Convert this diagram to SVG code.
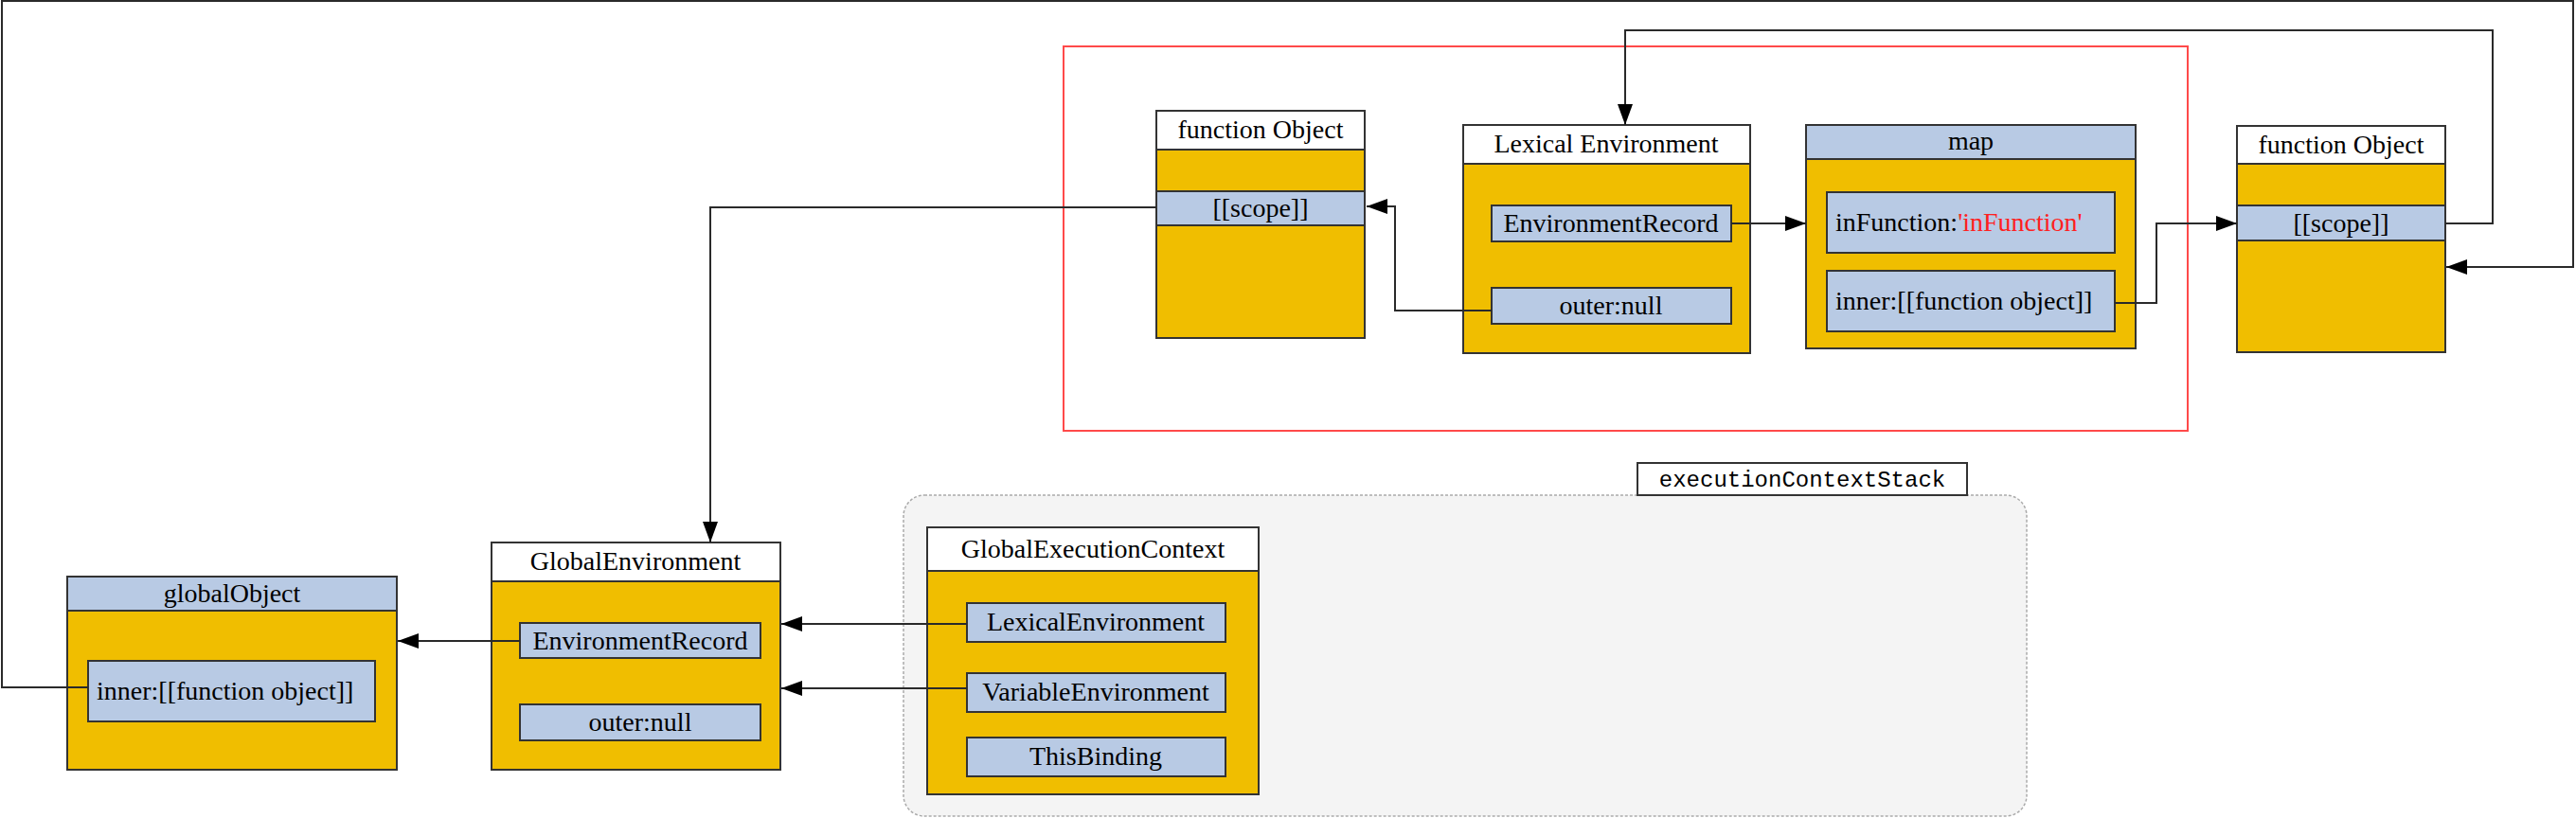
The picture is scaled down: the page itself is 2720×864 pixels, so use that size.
<svg xmlns="http://www.w3.org/2000/svg" width="2720" height="864" viewBox="0 0 2720 864">
<defs>
<marker id="arr" viewBox="0 0 22 16" refX="22" refY="8" markerWidth="22" markerHeight="16" orient="auto" markerUnits="userSpaceOnUse">
<path d="M0,0 L22,8 L0,16 Z" fill="#000"/>
</marker>
<style>
.box{fill:#F0BE00;stroke:#333;stroke-width:2}
.hw{fill:#fff;stroke:#333;stroke-width:2}
.hb{fill:#B8CAE4;stroke:#333;stroke-width:2}
.fld{fill:#B8CAE4;stroke:#333;stroke-width:2}
.t{font-family:"Liberation Serif","Times New Roman",serif;font-size:28px;fill:#000;text-anchor:middle}
.tl{font-family:"Liberation Serif","Times New Roman",serif;font-size:28px;fill:#000;text-anchor:start}
.mono{font-family:"Liberation Mono","Courier New",monospace;font-size:24px;fill:#000;text-anchor:middle}
.red{fill:#ff2020}
.edge{fill:none;stroke:#2a2a2a;stroke-width:2;marker-end:url(#arr)}
</style>
</defs>
<rect width="2720" height="864" fill="#fff"/>

<g id="cluster-stack">
<rect x="954" y="523" width="1186" height="339" rx="22" ry="22" fill="#f4f4f4" stroke="#aaa" stroke-width="1.5" stroke-dasharray="3,2"/>
<rect x="1729" y="489" width="348" height="34" fill="#fff" stroke="#333" stroke-width="2"/>
<text class="mono" x="1903" y="514">executionContextStack</text>
</g>

<g id="red-frame">
<rect x="1123" y="49" width="1187" height="406" fill="none" stroke="#ff4a4a" stroke-width="2"/>
</g>

<g id="functionObjectLeft">
<rect class="box" x="1221" y="117" width="220" height="240"/>
<rect class="hw" x="1221" y="117" width="220" height="41"/>
<text class="t" x="1331" y="146">function Object</text>
<rect class="fld" x="1221" y="202" width="220" height="36"/>
<text class="t" x="1331" y="229">[[scope]]</text>
</g>

<g id="lexicalEnvironment">
<rect class="box" x="1545" y="132" width="303" height="241"/>
<rect class="hw" x="1545" y="132" width="303" height="41"/>
<text class="t" x="1696" y="161">Lexical Environment</text>
<rect class="fld" x="1575" y="217" width="253" height="38"/>
<text class="t" x="1701" y="245">EnvironmentRecord</text>
<rect class="fld" x="1575" y="304" width="253" height="38"/>
<text class="t" x="1701" y="332">outer:null</text>
</g>

<g id="map">
<rect class="box" x="1907" y="132" width="348" height="236"/>
<rect class="hb" x="1907" y="132" width="348" height="36"/>
<text class="t" x="2081" y="158">map</text>
<rect class="fld" x="1929" y="203" width="304" height="64"/>
<text class="tl" x="1938" y="244">inFunction:<tspan class="red">'inFunction'</tspan></text>
<rect class="fld" x="1929" y="286" width="304" height="64"/>
<text class="tl" x="1938" y="327">inner:[[function object]]</text>
</g>

<g id="functionObjectRight">
<rect class="box" x="2362" y="133" width="220" height="239"/>
<rect class="hw" x="2362" y="133" width="220" height="40"/>
<text class="t" x="2472" y="162">function Object</text>
<rect class="fld" x="2362" y="217" width="220" height="37"/>
<text class="t" x="2472" y="245">[[scope]]</text>
</g>

<g id="globalObject">
<rect class="box" x="71" y="609" width="348" height="204"/>
<rect class="hb" x="71" y="609" width="348" height="36"/>
<text class="t" x="245" y="636">globalObject</text>
<rect class="fld" x="93" y="698" width="303" height="64"/>
<text class="tl" x="102" y="739">inner:[[function object]]</text>
</g>

<g id="globalEnvironment">
<rect class="box" x="519" y="573" width="305" height="240"/>
<rect class="hw" x="519" y="573" width="305" height="41"/>
<text class="t" x="671" y="602">GlobalEnvironment</text>
<rect class="fld" x="549" y="658" width="254" height="37"/>
<text class="t" x="676" y="686">EnvironmentRecord</text>
<rect class="fld" x="549" y="744" width="254" height="38"/>
<text class="t" x="676" y="772">outer:null</text>
</g>

<g id="globalExecutionContext">
<rect class="box" x="979" y="557" width="350" height="282"/>
<rect class="hw" x="979" y="557" width="350" height="46"/>
<text class="t" x="1154" y="589">GlobalExecutionContext</text>
<rect class="fld" x="1021" y="637" width="273" height="41"/>
<text class="t" x="1157" y="666">LexicalEnvironment</text>
<rect class="fld" x="1021" y="711" width="273" height="41"/>
<text class="t" x="1157" y="740">VariableEnvironment</text>
<rect class="fld" x="1021" y="779" width="273" height="41"/>
<text class="t" x="1157" y="808">ThisBinding</text>
</g>

<g id="connectors">
<path class="edge" d="M1221,219 H750 V573"/>
<path class="edge" d="M1575,328 H1473 V218 H1443"/>
<path class="edge" d="M1828,236 H1907"/>
<path class="edge" d="M2233,320 H2277 V236 H2362"/>
<path class="edge" d="M2582,236 H2632 V32 H1716 V132"/>
<path class="edge" d="M93,726 H2 V1 H2717 V282 H2583"/>
<path class="edge" d="M549,677 H420"/>
<path class="edge" d="M1021,659 H825"/>
<path class="edge" d="M1021,727 H825"/>
</g>
</svg>
